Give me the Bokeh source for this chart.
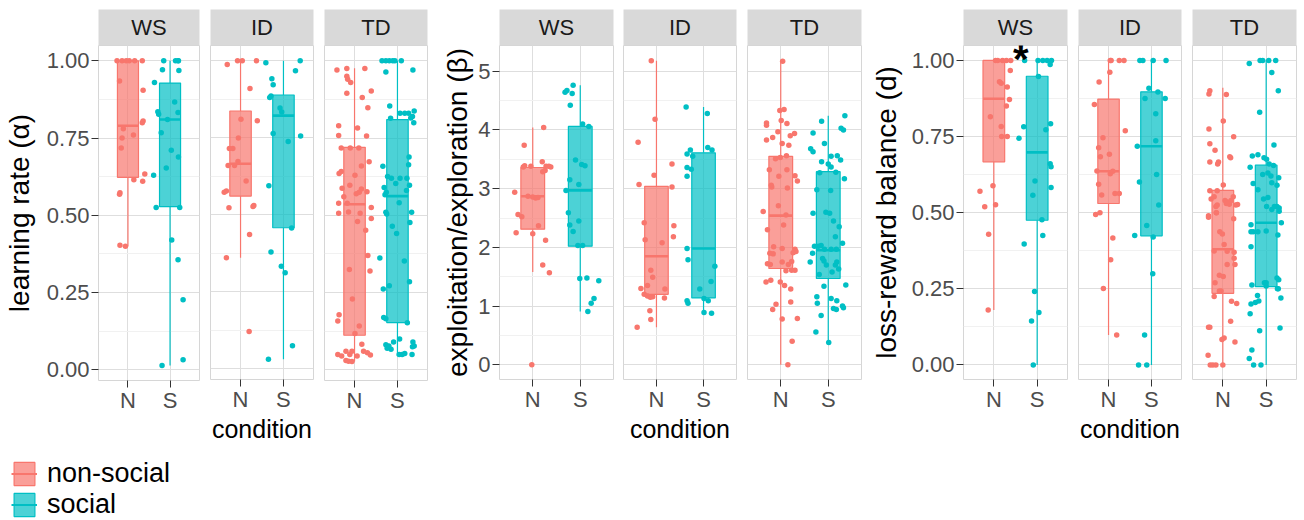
import numpy as np
from bokeh.plotting import figure
from bokeh.layouts import row, column
from bokeh.models import (Range1d, FactorRange, FixedTicker, ColumnDataSource, Label,
                          Legend, LegendItem, PrintfTickFormatter)
from bokeh.embed import file_html
from bokeh.resources import INLINE

# ---------------- data ----------------
facets = ["WS", "ID", "TD"]
conditions = ["N", "S"]
legend_labels = ["non-social", "social"]
y_titles = ["learning rate (\u03b1)", "exploitation/exploration (\u03b2)", "loss-reward balance (d)"]
x_title = "condition"

alpha_ticks = [0.0, 0.25, 0.5, 0.75, 1.0]
beta_ticks = [0, 1, 2, 3, 4, 5]
d_ticks = [0.0, 0.25, 0.5, 0.75, 1.0]

# box statistics, order: WS-N, WS-S, ID-N, ID-S, TD-N, TD-S
alpha_lower = [0.40, 0.014, 0.361, 0.031, 0.027, 0.045]
alpha_q1 = [0.623, 0.528, 0.561, 0.458, 0.112, 0.153]
alpha_median = [0.79, 0.81, 0.666, 0.822, 0.536, 0.562]
alpha_q3 = [1.0, 0.928, 0.837, 0.889, 0.72, 0.81]
alpha_upper = [1.0, 1.0, 1.0, 1.0, 0.976, 1.0]

beta_lower = [1.58, 0.91, 0.64, 0.89, 0.0, 0.38]
beta_q1 = [2.31, 2.02, 1.20, 1.14, 1.64, 1.47]
beta_median = [2.87, 2.97, 1.85, 1.98, 2.54, 1.95]
beta_q3 = [3.36, 4.06, 3.04, 3.61, 3.55, 3.29]
beta_upper = [4.04, 4.76, 5.18, 4.39, 5.17, 4.24]

d_lower = [0.18, 0.0, 0.098, 0.0, 0.0, 0.0]
d_q1 = [0.667, 0.475, 0.53, 0.424, 0.235, 0.257]
d_median = [0.874, 0.698, 0.636, 0.718, 0.38, 0.467]
d_q3 = [1.0, 0.948, 0.873, 0.897, 0.573, 0.656]
d_upper = [1.0, 1.0, 1.0, 1.0, 0.91, 1.0]

# individual participants: values and horizontal jitter
alpha_WS_N = [1.0, 1.0, 1.0, 1.0, 1.0, 1.0, 0.935, 0.905, 0.805, 0.80, 0.78, 0.76, 0.75, 0.718, 0.634, 0.615, 0.61, 0.573, 0.568, 0.403, 0.40]
alpha_WS_N_jit = [-0.26, -0.14, -0.04, 0.03, 0.16, 0.34, -0.2, 0.36, 0.36, 0.34, -0.11, 0.13, -0.14, -0.16, 0.40, 0.14, 0.35, -0.19, -0.2, -0.19, -0.06]
alpha_WS_S = [1.0, 1.0, 1.0, 1.0, 0.971, 0.969, 0.93, 0.867, 0.835, 0.827, 0.833, 0.81, 0.767, 0.711, 0.689, 0.653, 0.63, 0.525, 0.525, 0.42, 0.356, 0.227, 0.014, 0.033]
alpha_WS_S_jit = [-0.15, 0.13, 0.19, 0.2, -0.18, 0.21, -0.37, 0.11, -0.29, -0.27, 0.19, -0.06, -0.21, 0.03, 0.2, -0.09, -0.39, -0.33, 0.23, 0.04, 0.19, 0.31, -0.19, 0.31]
alpha_ID_N = [0.988, 1.0, 1.0, 1.0, 0.91, 0.81, 0.805, 0.749, 0.715, 0.715, 0.673, 0.66, 0.66, 0.61, 0.573, 0.577, 0.53, 0.527, 0.523, 0.436, 0.361, 0.121]
alpha_ID_N_jit = [-0.31, -0.07, 0.04, 0.37, 0.22, 0.01, 0.39, -0.05, -0.26, -0.18, -0.06, -0.29, -0.14, 0.13, -0.38, -0.33, 0.31, 0.29, -0.27, 0.21, -0.33, 0.2]
alpha_ID_S = [0.994, 1.0, 0.968, 0.942, 0.922, 0.881, 0.886, 0.847, 0.834, 0.764, 0.756, 0.738, 0.594, 0.457, 0.379, 0.333, 0.312, 0.075, 0.031]
alpha_ID_S_jit = [-0.41, 0.39, 0.28, -0.27, -0.24, -0.32, -0.29, -0.08, -0.04, -0.24, 0.4, 0.11, -0.34, 0.19, -0.29, -0.05, 0.04, 0.21, -0.35]
alpha_TD_N = [0.97, 0.975, 0.975, 0.95, 0.94, 0.93, 0.895, 0.902, 0.881, 0.848, 0.79, 0.783, 0.758, 0.757, 0.718, 0.718, 0.718, 0.673, 0.66, 0.642, 0.635, 0.63, 0.588, 0.597, 0.585, 0.56, 0.576, 0.57, 0.575, 0.539, 0.539, 0.525, 0.507, 0.511, 0.507, 0.49, 0.48, 0.452, 0.37, 0.325, 0.32, 0.229, 0.178, 0.158, 0.142, 0.118, 0.083, 0.06, 0.055, 0.048, 0.05, 0.045, 0.06, 0.05, 0.06, 0.045, 0.03, 0.028, 0.027]
alpha_TD_N_jit = [-0.41, -0.18, 0.24, -0.18, -0.16, -0.09, -0.18, 0.39, 0.18, 0.31, -0.37, 0.07, -0.37, 0.28, -0.31, -0.1, 0.1, 0.34, 0.16, -0.31, -0.36, 0.01, -0.29, -0.11, 0.16, -0.25, 0.29, 0.04, 0.11, -0.37, -0.17, 0.39, -0.37, -0.14, 0.13, 0.39, 0.07, 0.26, 0.31, -0.12, 0.36, -0.05, -0.36, -0.39, 0.11, 0.01, 0.17, 0.21, 0.3, 0.37, -0.39, -0.3, -0.2, -0.11, -0.06, 0.06, -0.2, -0.14, -0.06]
alpha_TD_S = [1.0, 1.0, 1.0, 1.0, 1.0, 1.0, 0.964, 0.97, 0.854, 0.838, 0.83, 0.83, 0.83, 0.814, 0.815, 0.82, 0.80, 0.689, 0.659, 0.664, 0.626, 0.62, 0.62, 0.62, 0.603, 0.59, 0.575, 0.567, 0.597, 0.58, 0.541, 0.51, 0.51, 0.504, 0.465, 0.441, 0.477, 0.362, 0.352, 0.285, 0.272, 0.262, 0.169, 0.165, 0.152, 0.081, 0.077, 0.09, 0.1, 0.09, 0.077, 0.075, 0.05, 0.067, 0.05, 0.05, 0.053, 0.07]
alpha_TD_S_jit = [-0.36, -0.27, -0.19, -0.11, -0.06, 0.09, -0.27, 0.36, -0.18, 0.39, 0.06, 0.17, 0.26, -0.16, 0.31, 0.35, 0.38, 0.27, -0.34, 0.26, -0.23, -0.14, 0.06, 0.22, -0.04, -0.31, -0.26, -0.29, 0.28, 0.21, 0.04, -0.27, 0.33, -0.25, -0.12, -0.02, 0.29, -0.41, 0.16, 0.28, -0.19, -0.33, -0.32, -0.27, 0.23, -0.27, -0.2, -0.09, 0.05, 0.36, 0.39, 0.35, 0.34, -0.15, 0.04, 0.11, 0.17, -0.24]

beta_WS_N = [4.04, 3.74, 3.46, 3.39, 3.37, 3.38, 3.38, 3.37, 3.38, 3.31, 3.29, 2.94, 2.87, 2.86, 2.84, 2.85, 2.56, 2.52, 2.25, 2.23, 2.37, 2.12, 1.70, 1.57, 0.0]
beta_WS_N_jit = [0.23, -0.18, 0.2, -0.17, -0.2, -0.04, 0.28, 0.38, 0.34, 0.26, 0.21, -0.38, -0.1, 0.0, 0.06, 0.11, -0.31, -0.23, -0.35, 0.0, 0.12, 0.27, 0.21, 0.35, -0.02]
beta_WS_S = [4.64, 4.67, 4.76, 4.62, 4.42, 4.10, 4.06, 3.49, 3.41, 3.39, 3.15, 3.07, 2.97, 2.59, 2.38, 2.45, 2.27, 2.03, 2.03, 1.47, 1.48, 1.43, 1.13, 1.05, 0.91]
beta_WS_S_jit = [-0.32, -0.28, -0.15, -0.17, -0.21, 0.05, 0.18, -0.1, 0.03, 0.1, -0.22, -0.03, -0.3, -0.25, -0.22, -0.03, -0.15, -0.05, 0.05, -0.01, 0.14, 0.39, 0.29, 0.23, 0.16]
beta_ID_N = [5.18, 4.18, 3.79, 3.42, 3.23, 3.07, 3.03, 2.42, 2.37, 2.18, 2.13, 2.08, 1.61, 1.49, 1.35, 1.30, 1.29, 1.20, 1.17, 1.16, 1.15, 1.14, 0.92, 0.77, 0.64]
beta_ID_N_jit = [-0.11, -0.03, -0.39, 0.33, -0.05, -0.37, 0.33, -0.26, 0.37, 0.36, -0.24, 0.12, -0.12, -0.08, -0.19, -0.33, 0.18, -0.26, -0.19, -0.08, -0.13, 0.17, -0.14, -0.12, -0.41]
beta_ID_S = [4.39, 4.28, 3.66, 3.59, 3.55, 3.70, 3.66, 3.36, 3.33, 3.21, 1.98, 1.79, 1.68, 1.42, 1.29, 1.09, 1.05, 1.13, 1.09, 0.89, 0.88]
beta_ID_S_jit = [-0.37, 0.08, -0.28, -0.35, -0.23, 0.09, 0.18, -0.35, -0.26, -0.35, -0.35, -0.33, 0.24, 0.16, -0.08, -0.35, -0.33, 0.01, 0.1, 0.01, 0.17]
beta_TD_N = [5.17, 4.33, 4.35, 4.12, 4.08, 4.16, 4.11, 3.94, 3.90, 3.97, 3.87, 3.83, 3.77, 3.74, 3.56, 3.51, 3.53, 3.32, 3.32, 3.22, 3.13, 3.21, 3.06, 3.03, 3.01, 2.71, 2.61, 2.30, 2.38, 2.55, 2.01, 1.98, 1.97, 1.93, 1.91, 1.90, 1.89, 1.72, 1.71, 1.75, 1.76, 1.71, 1.60, 1.61, 1.61, 1.41, 1.44, 1.41, 1.35, 1.29, 1.03, 1.07, 0.94, 0.78, 0.79, 0.40, 0.0]
beta_TD_N_jit = [0.04, -0.02, 0.07, -0.3, -0.3, 0.01, 0.13, 0.29, 0.2, -0.06, -0.17, -0.3, 0.03, 0.17, 0.12, -0.11, -0.01, -0.24, 0.13, 0.3, 0.35, -0.04, -0.2, -0.19, 0.14, -0.05, -0.37, -0.28, 0.06, 0.11, -0.15, 0.03, 0.3, 0.32, 0.26, -0.23, -0.16, -0.28, -0.22, 0.03, 0.23, 0.16, 0.11, 0.3, 0.23, -0.31, -0.21, -0.01, 0.08, 0.21, -0.1, 0.21, -0.17, 0.03, 0.35, 0.24, 0.15]
beta_TD_S = [4.24, 4.15, 4.03, 4.0, 3.95, 3.77, 3.68, 3.63, 3.55, 3.56, 3.46, 3.49, 3.42, 3.37, 3.27, 3.28, 3.17, 2.98, 2.97, 2.58, 2.60, 2.58, 2.45, 2.35, 2.18, 2.02, 2.02, 2.03, 2.07, 1.90, 1.97, 1.97, 1.97, 1.75, 1.81, 1.77, 1.70, 1.75, 1.70, 1.58, 1.63, 1.54, 1.36, 1.34, 1.16, 1.13, 1.09, 1.05, 1.0, 0.97, 0.96, 0.94, 0.84, 0.56, 0.38]
beta_TD_S_jit = [0.35, -0.14, 0.27, 0.32, -0.32, -0.08, -0.37, -0.32, 0.06, 0.19, -0.14, 0.26, 0.0, 0.06, -0.18, 0.16, 0.34, -0.24, 0.05, -0.32, -0.05, 0.03, 0.11, 0.23, 0.15, -0.29, -0.21, -0.15, 0.3, -0.33, -0.08, 0.06, 0.17, -0.38, -0.12, -0.09, -0.04, 0.18, 0.15, 0.08, 0.22, -0.19, 0.37, -0.09, -0.24, 0.06, 0.18, -0.23, 0.3, 0.32, 0.11, 0.17, -0.15, -0.26, 0.01]

d_WS_N = [1.0, 1.0, 1.0, 1.0, 1.0, 0.967, 0.93, 0.925, 0.913, 0.872, 0.85, 0.815, 0.783, 0.75, 0.75, 0.588, 0.57, 0.519, 0.526, 0.429, 0.18]
d_WS_N_jit = [0.04, 0.09, 0.2, 0.29, 0.39, 0.38, 0.13, 0.17, 0.31, 0.36, 0.29, -0.08, 0.17, 0.18, 0.31, -0.02, -0.32, -0.21, 0.04, -0.12, -0.13]
d_WS_S = [1.0, 1.0, 1.0, 1.0, 1.0, 0.987, 0.947, 0.792, 0.782, 0.772, 0.744, 0.661, 0.651, 0.604, 0.583, 0.557, 0.477, 0.425, 0.397, 0.241, 0.172, 0.144, 0.0]
d_WS_S_jit = [-0.29, 0.02, 0.13, 0.23, 0.33, 0.3, 0.03, 0.31, -0.31, 0.2, -0.42, 0.3, 0.32, -0.05, 0.32, -0.1, 0.11, 0.13, -0.3, -0.06, 0.04, -0.13, -0.09]
d_ID_N = [1.0, 1.0, 1.0, 1.0, 0.961, 0.929, 0.855, 0.769, 0.746, 0.713, 0.692, 0.684, 0.637, 0.628, 0.636, 0.593, 0.563, 0.563, 0.558, 0.494, 0.5, 0.417, 0.345, 0.251, 0.098]
d_ID_N_jit = [0.04, 0.06, 0.25, 0.36, 0.03, -0.22, -0.33, 0.39, -0.13, -0.23, 0.02, -0.19, -0.27, 0.04, 0.1, -0.23, 0.25, 0.15, -0.16, -0.3, -0.2, 0.1, 0.05, -0.12, 0.19]
d_ID_S = [1.0, 1.0, 1.0, 1.0, 0.909, 0.896, 0.875, 0.875, 0.825, 0.736, 0.718, 0.601, 0.625, 0.525, 0.458, 0.425, 0.42, 0.299, 0.098, 0.0, 0.0]
d_ID_S_jit = [-0.27, -0.2, 0.04, 0.34, -0.06, 0.15, -0.15, 0.32, 0.1, 0.1, -0.33, -0.28, 0.12, 0.17, -0.11, -0.39, 0.04, 0.03, -0.16, -0.3, -0.11]
d_TD_N = [0.90, 0.89, 0.888, 0.801, 0.775, 0.749, 0.726, 0.705, 0.684, 0.68, 0.666, 0.666, 0.66, 0.591, 0.572, 0.572, 0.552, 0.552, 0.545, 0.54, 0.535, 0.54, 0.52, 0.525, 0.49, 0.5, 0.525, 0.53, 0.528, 0.527, 0.5, 0.485, 0.48, 0.437, 0.43, 0.395, 0.374, 0.373, 0.37, 0.35, 0.33, 0.33, 0.294, 0.29, 0.27, 0.243, 0.243, 0.225, 0.209, 0.202, 0.143, 0.124, 0.124, 0.088, 0.083, 0.075, 0.032, 0.0, 0.0, 0.0, 0.0]
d_TD_N_jit = [-0.3, -0.32, 0.08, 0.01, -0.32, 0.25, -0.3, -0.18, 0.16, 0.18, -0.3, -0.1, -0.12, 0.01, -0.3, -0.13, -0.2, 0.24, -0.27, 0.05, 0.1, 0.19, -0.16, 0.3, -0.33, -0.15, -0.13, 0.08, 0.15, 0.34, -0.15, -0.33, 0.25, -0.07, -0.01, 0.03, -0.2, 0.1, 0.26, 0.26, 0.1, 0.28, -0.08, 0.01, -0.18, -0.08, -0.04, -0.2, 0.2, 0.32, 0.18, -0.33, -0.3, 0.03, -0.02, 0.28, -0.34, -0.29, -0.23, -0.16, 0.0]
d_TD_S = [0.99, 1.0, 1.0, 1.0, 1.0, 0.96, 0.90, 0.83, 0.722, 0.686, 0.69, 0.68, 0.675, 0.649, 0.66, 0.655, 0.625, 0.63, 0.62, 0.615, 0.598, 0.59, 0.596, 0.575, 0.545, 0.55, 0.52, 0.52, 0.515, 0.52, 0.51, 0.505, 0.467, 0.46, 0.437, 0.437, 0.437, 0.44, 0.427, 0.388, 0.262, 0.27, 0.27, 0.285, 0.28, 0.25, 0.25, 0.259, 0.2, 0.205, 0.21, 0.228, 0.22, 0.168, 0.112, 0.121, 0.049, 0.021, 0.0, 0.0]
d_TD_S_jit = [-0.39, -0.14, -0.08, 0.06, 0.22, 0.13, 0.28, -0.15, 0.18, -0.32, -0.19, -0.05, 0.01, -0.37, 0.07, 0.17, -0.08, 0.04, 0.11, 0.29, 0.13, 0.25, -0.3, -0.19, -0.06, 0.04, 0.19, 0.25, 0.3, 0.01, 0.13, 0.3, 0.35, -0.35, -0.35, -0.3, -0.19, 0.0, 0.27, -0.35, -0.33, -0.04, 0.0, 0.25, 0.29, 0.26, 0.28, 0.0, -0.35, -0.25, -0.17, -0.2, 0.34, -0.37, -0.15, 0.32, -0.33, -0.39, -0.29, -0.12]

# significance marker (loss-reward balance, WS facet): between N and S, just above 1.00
sig_text = "*"
sig_facet = "WS"
sig_y = 1.005
sig_cond = "S"
sig_offset = -0.38

# ---------------- style ----------------
COLORS = {"N": "#F8766D", "S": "#00BFC4"}
FONT = "Liberation Sans"
GRID = "#DEDEDE"
MINOR = "#F1F1F1"
BORDER = "#D6D6D6"
STRIP = "#D9D9D9"

panels = [
    dict(title=y_titles[0], ticks=alpha_ticks, minor=[0.125, 0.375, 0.625, 0.875], fmt="%.2f",
         yr=(-0.0345, 1.0496), frame_h=335, label_standoff=9,
         box=(alpha_lower, alpha_q1, alpha_median, alpha_q3, alpha_upper),
         pts={("WS", "N"): (alpha_WS_N, alpha_WS_N_jit), ("WS", "S"): (alpha_WS_S, alpha_WS_S_jit),
              ("ID", "N"): (alpha_ID_N, alpha_ID_N_jit), ("ID", "S"): (alpha_ID_S, alpha_ID_S_jit),
              ("TD", "N"): (alpha_TD_N, alpha_TD_N_jit), ("TD", "S"): (alpha_TD_S, alpha_TD_S_jit)},
         lefts=[96, 10, 10], frames=[103, 103, 103], rights=[1, 1, 1]),
    dict(title=y_titles[1], ticks=beta_ticks, minor=[0.5, 1.5, 2.5, 3.5, 4.5], fmt="%d",
         yr=(-0.25, 5.438), frame_h=334, label_standoff=2,
         box=(beta_lower, beta_q1, beta_median, beta_q3, beta_upper),
         pts={("WS", "N"): (beta_WS_N, beta_WS_N_jit), ("WS", "S"): (beta_WS_S, beta_WS_S_jit),
              ("ID", "N"): (beta_ID_N, beta_ID_N_jit), ("ID", "S"): (beta_ID_S, beta_ID_S_jit),
              ("TD", "N"): (beta_TD_N, beta_TD_N_jit), ("TD", "S"): (beta_TD_S, beta_TD_S_jit)},
         lefts=[71, 9, 10], frames=[114, 113, 114], rights=[1, 1, 1]),
    dict(title=y_titles[2], ticks=d_ticks, minor=[0.125, 0.375, 0.625, 0.875], fmt="%.2f",
         yr=(-0.048, 1.049), frame_h=334, label_standoff=7,
         box=(d_lower, d_q1, d_median, d_q3, d_upper),
         pts={("WS", "N"): (d_WS_N, d_WS_N_jit), ("WS", "S"): (d_WS_S, d_WS_S_jit),
              ("ID", "N"): (d_ID_N, d_ID_N_jit), ("ID", "S"): (d_ID_S, d_ID_S_jit),
              ("TD", "N"): (d_TD_N, d_TD_N_jit), ("TD", "S"): (d_TD_S, d_TD_S_jit)},
         lefts=[101, 10, 10], frames=[104, 103, 104], rights=[1, 1, 8]),
]

STRIP_H = 45
PANEL_BOTTOM = 445      # bottom of facet figures (tick labels and x title included)
LEGEND_H = 75


def style_text_axis(ax):
    ax.axis_line_color = None
    ax.major_tick_out = 7
    ax.major_tick_in = 0
    ax.minor_tick_out = 0
    ax.minor_tick_in = 0
    ax.major_tick_line_color = "#333333"
    ax.major_label_text_font = FONT
    ax.major_label_text_font_size = "22px"
    ax.major_label_text_color = "#4D4D4D"


panel_cols = []
for pi, P in enumerate(panels):
    lower, q1, med, q3, upper = P["box"]
    for fi, fac in enumerate(facets):
        L, F, R = P["lefts"][fi], P["frames"][fi], P["rights"][fi]
        W = L + F + R
        # strip
        s = figure(width=W, height=STRIP_H, x_range=Range1d(0, 1), y_range=Range1d(0, 1),
                   x_axis_location=None, y_axis_location=None, toolbar_location=None,
                   min_border_left=L, min_border_right=R, min_border_top=9, min_border_bottom=0,
                   background_fill_color=STRIP, outline_line_color=None, output_backend="svg")
        s.xgrid.visible = False
        s.ygrid.visible = False
        s.add_layout(Label(x=0.5, y=0.5, text=fac, text_align="center", text_baseline="middle",
                           text_font=FONT, text_font_size="22px", text_color="#1A1A1A"))
        # panel
        H = PANEL_BOTTOM - STRIP_H
        p = figure(width=W, height=H,
                   x_range=FactorRange(factors=conditions, range_padding=0.2, range_padding_units="absolute"),
                   y_range=Range1d(*P["yr"]), toolbar_location=None, output_backend="svg",
                   y_axis_location="left" if fi == 0 else None,
                   min_border_left=L, min_border_right=R, min_border_top=0,
                   min_border_bottom=H - P["frame_h"],
                   outline_line_color=BORDER, outline_line_width=1)
        ticker = FixedTicker(ticks=P["ticks"], minor_ticks=P["minor"])
        p.ygrid.ticker = ticker
        p.ygrid.grid_line_color = GRID
        p.ygrid.minor_grid_line_color = MINOR
        p.xgrid.grid_line_color = GRID
        if fi == 0:
            ax = p.yaxis[0]
            ax.ticker = ticker
            ax.formatter = PrintfTickFormatter(format=P["fmt"])
            ax.axis_label = P["title"]
            ax.axis_label_text_font = FONT
            ax.axis_label_text_font_size = "28px"
            ax.axis_label_text_font_style = "normal"
            ax.axis_label_text_color = "black"
            ax.axis_label_standoff = P["label_standoff"]
            style_text_axis(ax)
            ax.major_label_standoff = 2
        xa = p.xaxis[0]
        style_text_axis(xa)
        xa.major_label_standoff = 0
        if fi == 1:
            xa.axis_label = x_title
            xa.axis_label_text_font = FONT
            xa.axis_label_text_font_size = "25px"
            xa.axis_label_text_font_style = "normal"
            xa.axis_label_text_color = "black"
            xa.axis_label_standoff = 0

        # jittered points
        for cond in conditions:
            vals, jit = P["pts"][(fac, cond)]
            src = ColumnDataSource(dict(x=[(cond, j) for j in jit], y=vals))
            p.scatter(x="x", y="y", source=src, size=5.5, fill_color=COLORS[cond],
                      line_color=None)
        # boxes
        k0 = fi * 2
        bsrc = ColumnDataSource(dict(
            x=conditions,
            lo=lower[k0:k0 + 2], q1=q1[k0:k0 + 2], med=med[k0:k0 + 2],
            q3=q3[k0:k0 + 2], hi=upper[k0:k0 + 2],
            xl=[(c, -0.25) for c in conditions], xr=[(c, 0.25) for c in conditions],
            col=[COLORS[c] for c in conditions]))
        p.vbar(x="x", bottom="q1", top="q3", width=0.5, source=bsrc, fill_color="col",
               fill_alpha=0.7, line_color="col", line_width=1.2)
        p.segment(x0="x", y0="q3", x1="x", y1="hi", source=bsrc, line_color="col", line_width=1.2)
        p.segment(x0="x", y0="q1", x1="x", y1="lo", source=bsrc, line_color="col", line_width=1.2)
        p.segment(x0="xl", y0="med", x1="xr", y1="med", source=bsrc, line_color="col", line_width=2.6)

        if pi == 2 and fac == sig_facet:
            # factor centres sit at index + 0.5 on Bokeh's synthetic categorical axis
            sig_xpos = conditions.index(sig_cond) + 0.5 + sig_offset
            p.add_layout(Label(x=sig_xpos, y=sig_y, text=sig_text, text_font=FONT,
                               text_font_size="40px", text_font_style="bold", text_color="black",
                               text_align="center", text_baseline="middle"))

        panel_cols.append(column(s, p, spacing=0))

top = row(*panel_cols, spacing=0)

# legend: renderers hold a single missing value, so only their legend keys are drawn
lg = figure(width=400, height=LEGEND_H, x_range=Range1d(0, 1), y_range=Range1d(0, 1),
            x_axis_location=None, y_axis_location=None, toolbar_location=None,
            min_border_left=8, min_border_right=0, min_border_top=10, min_border_bottom=0,
            outline_line_color=None, output_backend="svg")
lg.xgrid.visible = False
lg.ygrid.visible = False
items = []
for cond, lab in zip(conditions, legend_labels):
    missing = np.array([np.nan])
    esrc = ColumnDataSource(dict(x=missing, b=missing, t=missing,
                                 x0=missing, y0=missing, x1=missing, y1=missing))
    rb = lg.vbar(x="x", bottom="b", top="t", width=0.05, source=esrc, fill_color=COLORS[cond],
                 fill_alpha=0.7, line_color=COLORS[cond], line_width=1.2)
    rm = lg.segment(x0="x0", y0="y0", x1="x1", y1="y1", source=esrc, line_color=COLORS[cond],
                    line_width=2)
    items.append(LegendItem(label=lab, renderers=[rb, rm]))
legend = Legend(items=items, location="top_left", margin=3, padding=0, spacing=0,
                glyph_width=26, glyph_height=29, label_standoff=10,
                label_text_font=FONT, label_text_font_size="27px", label_text_color="black",
                border_line_color=None, background_fill_alpha=0)
lg.add_layout(legend)

layout = column(top, lg, spacing=0)

open("out.html", "w").write(file_html(layout, INLINE))
